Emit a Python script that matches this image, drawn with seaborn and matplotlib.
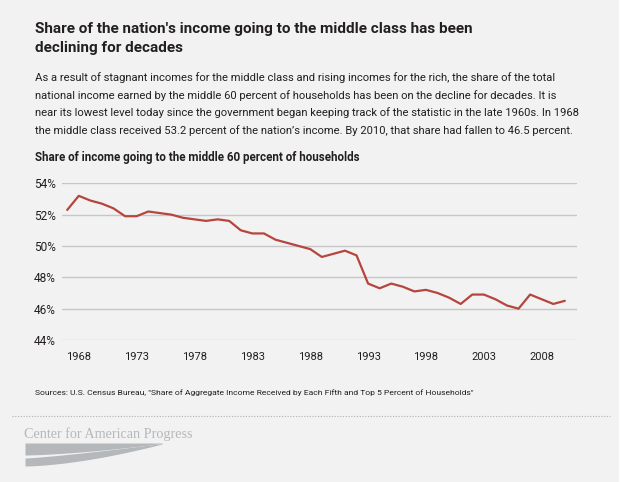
import numpy as np
import pandas as pd
import matplotlib
matplotlib.use("Agg")
import matplotlib.pyplot as plt
from matplotlib.patches import Rectangle
import seaborn as sns

# Share of aggregate income received by the middle three fifths of households
years = list(range(1967, 2011))
middle_share = [52.3, 53.2, 52.9, 52.7, 52.4, 51.9, 51.9, 52.2, 52.1, 52.0,
                51.8, 51.7, 51.6, 51.7, 51.6, 51.0, 50.8, 50.8, 50.4, 50.2,
                50.0, 49.8, 49.3, 49.5, 49.7, 49.4, 47.6, 47.3, 47.6, 47.4,
                47.1, 47.2, 47.0, 46.7, 46.3, 46.9, 46.9, 46.6, 46.2, 46.0,
                46.9, 46.6, 46.3, 46.5]
x_ticks = [1968, 1973, 1978, 1983, 1988, 1993, 1998, 2003, 2008]
y_ticks = [44, 46, 48, 50, 52, 54]

title = "Share of the nation's income going to the middle class has been\ndeclining for decades"
body = ("As a result of stagnant incomes for the middle class and rising incomes for the rich, the share of the total\n"
        "national income earned by the middle 60 percent of households has been on the decline for decades. It is\n"
        "near its lowest level today since the government began keeping track of the statistic in the late 1960s. In 1968\n"
        "the middle class received 53.2 percent of the nation\u2019s income. By 2010, that share had fallen to 46.5 percent.")
chart_title = "Share of income going to the middle 60 percent of households"
source = "Sources: U.S. Census Bureau, \"Share of Aggregate Income Received by Each Fifth and Top 5 Percent of Households\""

df = pd.DataFrame({"year": years, "share": middle_share})

BG = "#f2f2f2"
RED = "#b5463e"
INK = "#231f20"
W, H = 621, 482

sns.set_theme(style="white")
plt.rcParams["font.family"] = ["Roboto", "DejaVu Sans"]

fig = plt.figure(figsize=(W / 100, H / 100), dpi=100, facecolor=BG)


def fx(x):
    return x / W


def fy(y):
    return 1 - y / H


ax = fig.add_axes([fx(62), fy(340), fx(577) - fx(62), fy(183.3) - fy(340)])
ax.set_facecolor(BG)
sns.lineplot(data=df, x="year", y="share", ax=ax, color=RED, linewidth=1.6,
             clip_on=False)
ax.set_xlim(1966.55, 2011.05)
ax.set_ylim(44, 54)
ax.set_xticks(x_ticks)
ax.set_yticks(y_ticks)
ax.set_yticklabels([f"{v}%" for v in y_ticks])
ax.grid(axis="y", color="#c6c6c6", linewidth=1)
ax.set_axisbelow(True)
for s in ax.spines.values():
    s.set_visible(False)
ax.tick_params(axis="y", length=0, pad=4.5, labelsize=8.6, labelcolor=INK)
ax.tick_params(axis="x", length=0, pad=9, labelsize=8, labelcolor=INK)
ax.set_xlabel("")
ax.set_ylabel("")

# header texts
fig.text(fx(35), fy(38.5), title, fontsize=11, fontweight="bold", color=INK,
         va="center", ha="left", linespacing=1.45)
fig.text(fx(35), fy(104), body, fontsize=8.1, color=INK, va="center",
         ha="left", linespacing=1.75)
fig.text(fx(35), fy(157), chart_title, fontsize=8.4, fontweight="bold",
         color=INK, va="center", ha="left")
fig.text(fx(35), fy(393), source, fontsize=6.1, color=INK, va="center",
         ha="left")

# dotted separator
fig.add_artist(plt.Line2D([fx(12), fx(610)], [fy(416), fy(416)],
                          color="#b0b0b0", linewidth=0.8, linestyle=(0, (1, 1.5))))

# logo
LOGO = "#b5b8bb"
fig.text(fx(24), fy(434), "Center for American Progress", fontsize=10.2,
         family=["Liberation Serif", "DejaVu Serif"], color=LOGO,
         va="center", ha="left")
lax = fig.add_axes([fx(25), fy(467), fx(162) - fx(25), fy(442) - fy(467)])
lax.set_axis_off()
t = np.linspace(0, 1, 80)
lax.fill_between(t, 0.48 + 0.46 * t ** 1.5, np.full_like(t, 0.96), color=LOGO, lw=0)
lax.fill_between(t, 0.04 + 0.88 * t ** 1.6, 0.36 + 0.58 * t ** 1.2, color=LOGO, lw=0)
lax.set_xlim(0, 1)
lax.set_ylim(0, 1)

fig.add_artist(Rectangle((fx(619), 0), 1 - fx(619), 1, transform=fig.transFigure,
                         facecolor="white", edgecolor="none"))

fig.savefig("out.png", dpi=100, facecolor=BG)
